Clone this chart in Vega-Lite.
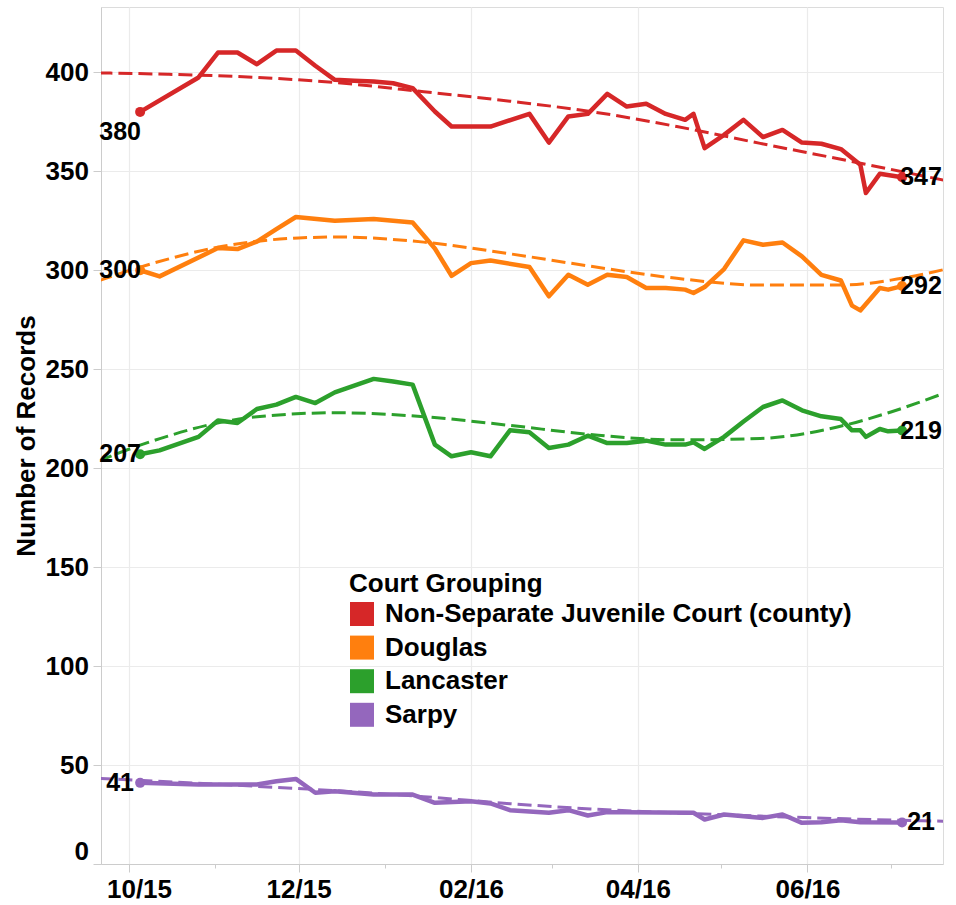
{
  "$schema": "https://vega.github.io/schema/vega-lite/v6.json",
  "width": 842,
  "height": 857,
  "autosize": "none",
  "padding": {"left": 101, "top": 7, "right": 13, "bottom": 41},
  "background": "white",
  "config": {
    "font": "Liberation Sans",
    "view": {"stroke": "#dcdcdc", "strokeWidth": 1},
    "axis": {
      "labelFont": "Liberation Sans", "labelFontSize": 26, "labelFontWeight": "bold", "labelColor": "#000000",
      "titleFont": "Liberation Sans", "titleFontSize": 26, "titleFontWeight": "bold", "titleColor": "#000000",
      "domainColor": "#cccccc", "tickColor": "#cccccc", "gridColor": "#ebebeb", "gridWidth": 1.2
    }
  },
  "data": {
    "format": {"parse": {"date": "date"}},
    "values": [
      {"date": "2015-10-05", "court": "Non-Separate Juvenile Court (county)", "records": 380},
      {"date": "2015-10-26", "court": "Non-Separate Juvenile Court (county)", "records": 397.4},
      {"date": "2015-11-02", "court": "Non-Separate Juvenile Court (county)", "records": 410},
      {"date": "2015-11-09", "court": "Non-Separate Juvenile Court (county)", "records": 410},
      {"date": "2015-11-16", "court": "Non-Separate Juvenile Court (county)", "records": 404.1},
      {"date": "2015-11-23", "court": "Non-Separate Juvenile Court (county)", "records": 411},
      {"date": "2015-11-30", "court": "Non-Separate Juvenile Court (county)", "records": 411},
      {"date": "2015-12-07", "court": "Non-Separate Juvenile Court (county)", "records": 403.3},
      {"date": "2015-12-14", "court": "Non-Separate Juvenile Court (county)", "records": 396.2},
      {"date": "2015-12-21", "court": "Non-Separate Juvenile Court (county)", "records": 395.8},
      {"date": "2015-12-28", "court": "Non-Separate Juvenile Court (county)", "records": 395.4},
      {"date": "2016-01-04", "court": "Non-Separate Juvenile Court (county)", "records": 394.5},
      {"date": "2016-01-11", "court": "Non-Separate Juvenile Court (county)", "records": 392},
      {"date": "2016-01-19", "court": "Non-Separate Juvenile Court (county)", "records": 380.2},
      {"date": "2016-01-25", "court": "Non-Separate Juvenile Court (county)", "records": 372.6},
      {"date": "2016-02-01", "court": "Non-Separate Juvenile Court (county)", "records": 372.6},
      {"date": "2016-02-08", "court": "Non-Separate Juvenile Court (county)", "records": 372.6},
      {"date": "2016-02-22", "court": "Non-Separate Juvenile Court (county)", "records": 379},
      {"date": "2016-02-29", "court": "Non-Separate Juvenile Court (county)", "records": 364.5},
      {"date": "2016-03-07", "court": "Non-Separate Juvenile Court (county)", "records": 377.7},
      {"date": "2016-03-14", "court": "Non-Separate Juvenile Court (county)", "records": 379},
      {"date": "2016-03-21", "court": "Non-Separate Juvenile Court (county)", "records": 389.1},
      {"date": "2016-03-28", "court": "Non-Separate Juvenile Court (county)", "records": 382.7},
      {"date": "2016-04-04", "court": "Non-Separate Juvenile Court (county)", "records": 384.1},
      {"date": "2016-04-11", "court": "Non-Separate Juvenile Court (county)", "records": 379},
      {"date": "2016-04-18", "court": "Non-Separate Juvenile Court (county)", "records": 376},
      {"date": "2016-04-21", "court": "Non-Separate Juvenile Court (county)", "records": 379},
      {"date": "2016-04-25", "court": "Non-Separate Juvenile Court (county)", "records": 361.7},
      {"date": "2016-05-02", "court": "Non-Separate Juvenile Court (county)", "records": 368.4},
      {"date": "2016-05-09", "court": "Non-Separate Juvenile Court (county)", "records": 376},
      {"date": "2016-05-16", "court": "Non-Separate Juvenile Court (county)", "records": 367.3},
      {"date": "2016-05-23", "court": "Non-Separate Juvenile Court (county)", "records": 370.9},
      {"date": "2016-05-30", "court": "Non-Separate Juvenile Court (county)", "records": 364.5},
      {"date": "2016-06-06", "court": "Non-Separate Juvenile Court (county)", "records": 363.9},
      {"date": "2016-06-13", "court": "Non-Separate Juvenile Court (county)", "records": 361.2},
      {"date": "2016-06-20", "court": "Non-Separate Juvenile Court (county)", "records": 353.3},
      {"date": "2016-06-22", "court": "Non-Separate Juvenile Court (county)", "records": 339},
      {"date": "2016-06-27", "court": "Non-Separate Juvenile Court (county)", "records": 348.7},
      {"date": "2016-07-05", "court": "Non-Separate Juvenile Court (county)", "records": 347},

      {"date": "2015-10-05", "court": "Douglas", "records": 300},
      {"date": "2015-10-12", "court": "Douglas", "records": 296.9},
      {"date": "2015-11-02", "court": "Douglas", "records": 311.2},
      {"date": "2015-11-09", "court": "Douglas", "records": 310.7},
      {"date": "2015-11-16", "court": "Douglas", "records": 314.5},
      {"date": "2015-11-23", "court": "Douglas", "records": 320.8},
      {"date": "2015-11-30", "court": "Douglas", "records": 326.9},
      {"date": "2015-12-14", "court": "Douglas", "records": 325},
      {"date": "2015-12-28", "court": "Douglas", "records": 325.9},
      {"date": "2016-01-11", "court": "Douglas", "records": 324.1},
      {"date": "2016-01-19", "court": "Douglas", "records": 311},
      {"date": "2016-01-25", "court": "Douglas", "records": 297.2},
      {"date": "2016-02-01", "court": "Douglas", "records": 303.6},
      {"date": "2016-02-08", "court": "Douglas", "records": 304.9},
      {"date": "2016-02-22", "court": "Douglas", "records": 301.6},
      {"date": "2016-02-29", "court": "Douglas", "records": 286.8},
      {"date": "2016-03-07", "court": "Douglas", "records": 297.7},
      {"date": "2016-03-14", "court": "Douglas", "records": 292.7},
      {"date": "2016-03-21", "court": "Douglas", "records": 297.7},
      {"date": "2016-03-28", "court": "Douglas", "records": 296.6},
      {"date": "2016-04-04", "court": "Douglas", "records": 291},
      {"date": "2016-04-11", "court": "Douglas", "records": 291},
      {"date": "2016-04-18", "court": "Douglas", "records": 290.2},
      {"date": "2016-04-21", "court": "Douglas", "records": 288.5},
      {"date": "2016-04-25", "court": "Douglas", "records": 291.5},
      {"date": "2016-05-02", "court": "Douglas", "records": 300.6},
      {"date": "2016-05-09", "court": "Douglas", "records": 315.1},
      {"date": "2016-05-16", "court": "Douglas", "records": 312.9},
      {"date": "2016-05-23", "court": "Douglas", "records": 314},
      {"date": "2016-05-30", "court": "Douglas", "records": 307},
      {"date": "2016-06-06", "court": "Douglas", "records": 297.7},
      {"date": "2016-06-13", "court": "Douglas", "records": 294.8},
      {"date": "2016-06-17", "court": "Douglas", "records": 282.1},
      {"date": "2016-06-20", "court": "Douglas", "records": 279.7},
      {"date": "2016-06-27", "court": "Douglas", "records": 291},
      {"date": "2016-06-30", "court": "Douglas", "records": 290.2},
      {"date": "2016-07-05", "court": "Douglas", "records": 292},

      {"date": "2015-10-05", "court": "Lancaster", "records": 207},
      {"date": "2015-10-12", "court": "Lancaster", "records": 209},
      {"date": "2015-10-26", "court": "Lancaster", "records": 215.8},
      {"date": "2015-11-02", "court": "Lancaster", "records": 224.1},
      {"date": "2015-11-09", "court": "Lancaster", "records": 222.8},
      {"date": "2015-11-16", "court": "Lancaster", "records": 229.9},
      {"date": "2015-11-23", "court": "Lancaster", "records": 232.1},
      {"date": "2015-11-30", "court": "Lancaster", "records": 236},
      {"date": "2015-12-07", "court": "Lancaster", "records": 232.9},
      {"date": "2015-12-14", "court": "Lancaster", "records": 238.3},
      {"date": "2015-12-21", "court": "Lancaster", "records": 241.7},
      {"date": "2015-12-28", "court": "Lancaster", "records": 245.1},
      {"date": "2016-01-04", "court": "Lancaster", "records": 243.8},
      {"date": "2016-01-11", "court": "Lancaster", "records": 242.2},
      {"date": "2016-01-19", "court": "Lancaster", "records": 211.9},
      {"date": "2016-01-25", "court": "Lancaster", "records": 206},
      {"date": "2016-02-01", "court": "Lancaster", "records": 208},
      {"date": "2016-02-08", "court": "Lancaster", "records": 206},
      {"date": "2016-02-15", "court": "Lancaster", "records": 219.1},
      {"date": "2016-02-22", "court": "Lancaster", "records": 218.1},
      {"date": "2016-02-29", "court": "Lancaster", "records": 210.2},
      {"date": "2016-03-07", "court": "Lancaster", "records": 211.9},
      {"date": "2016-03-14", "court": "Lancaster", "records": 216.4},
      {"date": "2016-03-21", "court": "Lancaster", "records": 212.7},
      {"date": "2016-03-28", "court": "Lancaster", "records": 212.7},
      {"date": "2016-04-04", "court": "Lancaster", "records": 213.9},
      {"date": "2016-04-11", "court": "Lancaster", "records": 211.9},
      {"date": "2016-04-18", "court": "Lancaster", "records": 211.9},
      {"date": "2016-04-21", "court": "Lancaster", "records": 213},
      {"date": "2016-04-25", "court": "Lancaster", "records": 209.7},
      {"date": "2016-05-02", "court": "Lancaster", "records": 215.8},
      {"date": "2016-05-09", "court": "Lancaster", "records": 223.6},
      {"date": "2016-05-16", "court": "Lancaster", "records": 230.9},
      {"date": "2016-05-23", "court": "Lancaster", "records": 234.2},
      {"date": "2016-05-30", "court": "Lancaster", "records": 229.2},
      {"date": "2016-06-06", "court": "Lancaster", "records": 226.2},
      {"date": "2016-06-13", "court": "Lancaster", "records": 224.8},
      {"date": "2016-06-17", "court": "Lancaster", "records": 219.1},
      {"date": "2016-06-20", "court": "Lancaster", "records": 219.1},
      {"date": "2016-06-22", "court": "Lancaster", "records": 215.8},
      {"date": "2016-06-27", "court": "Lancaster", "records": 219.8},
      {"date": "2016-06-30", "court": "Lancaster", "records": 218.6},
      {"date": "2016-07-05", "court": "Lancaster", "records": 219},

      {"date": "2015-10-05", "court": "Sarpy", "records": 41},
      {"date": "2015-10-26", "court": "Sarpy", "records": 40.2},
      {"date": "2015-11-16", "court": "Sarpy", "records": 40.2},
      {"date": "2015-11-23", "court": "Sarpy", "records": 41.8},
      {"date": "2015-11-30", "court": "Sarpy", "records": 43},
      {"date": "2015-12-07", "court": "Sarpy", "records": 36},
      {"date": "2015-12-14", "court": "Sarpy", "records": 36.8},
      {"date": "2015-12-28", "court": "Sarpy", "records": 35.1},
      {"date": "2016-01-11", "court": "Sarpy", "records": 35.1},
      {"date": "2016-01-19", "court": "Sarpy", "records": 30.9},
      {"date": "2016-02-01", "court": "Sarpy", "records": 31.7},
      {"date": "2016-02-08", "court": "Sarpy", "records": 30.6},
      {"date": "2016-02-15", "court": "Sarpy", "records": 27.2},
      {"date": "2016-02-22", "court": "Sarpy", "records": 26.5},
      {"date": "2016-02-29", "court": "Sarpy", "records": 25.9},
      {"date": "2016-03-07", "court": "Sarpy", "records": 27.2},
      {"date": "2016-03-14", "court": "Sarpy", "records": 24.5},
      {"date": "2016-03-21", "court": "Sarpy", "records": 26.2},
      {"date": "2016-03-28", "court": "Sarpy", "records": 26.2},
      {"date": "2016-04-21", "court": "Sarpy", "records": 25.9},
      {"date": "2016-04-25", "court": "Sarpy", "records": 22.5},
      {"date": "2016-05-02", "court": "Sarpy", "records": 25},
      {"date": "2016-05-16", "court": "Sarpy", "records": 23.3},
      {"date": "2016-05-23", "court": "Sarpy", "records": 25},
      {"date": "2016-05-30", "court": "Sarpy", "records": 20.8},
      {"date": "2016-06-06", "court": "Sarpy", "records": 21.1},
      {"date": "2016-06-13", "court": "Sarpy", "records": 22.1},
      {"date": "2016-06-20", "court": "Sarpy", "records": 21.1},
      {"date": "2016-07-05", "court": "Sarpy", "records": 21}
    ]
  },
  "encoding": {
    "x": {
      "field": "date", "type": "temporal",
      "scale": {"type": "utc", "domain": [1442787552000, 1468949400000]},
      "axis": {
        "title": null,
        "values": [1443657600000, 1446336000000, 1448928000000, 1451606400000, 1454284800000, 1456790400000, 1459468800000, 1462060800000, 1464739200000, 1467331200000],
        "labelExpr": "utcmonth(datum.value) % 2 == 1 ? utcFormat(datum.value, '%m/%y') : ''",
        "tickSize": {"condition": {"test": "utcmonth(datum.value) % 2 == 0", "value": 4}, "value": 8},
        "gridOpacity": {"condition": {"test": "utcmonth(datum.value) % 2 == 0", "value": 0}, "value": 1},
        "labelOffset": {"condition": {"test": "+datum.value == 1443657600000", "value": 10}, "value": 0},
        "labelPadding": 4,
        "labelFlush": false,
        "labelOverlap": false,
        "labelBound": false
      }
    },
    "y": {
      "field": "records", "type": "quantitative",
      "scale": {"domain": [0, 433], "nice": false, "zero": true},
      "axis": {
        "title": "Number of Records",
        "values": [0, 50, 100, 150, 200, 250, 300, 350, 400],
        "tickSize": 8,
        "labelPadding": 4.5,
        "labelFlush": true,
        "titlePadding": 6
      }
    },
    "color": {
      "field": "court", "type": "nominal",
      "scale": {
        "domain": ["Non-Separate Juvenile Court (county)", "Douglas", "Lancaster", "Sarpy"],
        "range": ["#d62728", "#ff7f0e", "#2ca02c", "#9467bd"]
      },
      "legend": {
        "orient": "none", "legendX": 248, "legendY": 564,
        "title": "Court Grouping",
        "titleFont": "Liberation Sans", "titleFontSize": 26, "titleFontWeight": "bold", "titleColor": "#000000", "titlePadding": 4, "titleLimit": 600,
        "labelFont": "Liberation Sans", "labelFontSize": 26, "labelFontWeight": "bold", "labelColor": "#000000", "labelOffset": 10, "labelLimit": 700,
        "symbolType": "square", "symbolSize": 576, "symbolStrokeWidth": 0, "symbolOpacity": 1,
        "rowPadding": 7.6, "padding": 0,
        "encode": {"symbols": {"update": {"fill": {"scale": "color", "field": "value"}, "opacity": {"value": 1}}}}
      }
    }
  },
  "layer": [
    {"mark": {"type": "line", "strokeWidth": 4.5, "strokeJoin": "round"}},
    {
      "data": {
        "values": [
          {"date": "2015-09-20", "court": "Non-Separate Juvenile Court (county)", "records": 399.7},
          {"date": "2015-10-15", "court": "Non-Separate Juvenile Court (county)", "records": 399.0},
          {"date": "2015-11-15", "court": "Non-Separate Juvenile Court (county)", "records": 397.5},
          {"date": "2015-12-15", "court": "Non-Separate Juvenile Court (county)", "records": 394.7},
          {"date": "2016-01-15", "court": "Non-Separate Juvenile Court (county)", "records": 390.2},
          {"date": "2016-02-15", "court": "Non-Separate Juvenile Court (county)", "records": 385.4},
          {"date": "2016-03-15", "court": "Non-Separate Juvenile Court (county)", "records": 380.2},
          {"date": "2016-04-15", "court": "Non-Separate Juvenile Court (county)", "records": 372.6},
          {"date": "2016-05-15", "court": "Non-Separate Juvenile Court (county)", "records": 364.1},
          {"date": "2016-06-15", "court": "Non-Separate Juvenile Court (county)", "records": 355.5},
          {"date": "2016-07-20", "court": "Non-Separate Juvenile Court (county)", "records": 345.5},

          {"date": "2015-09-20", "court": "Douglas", "records": 294.6},
          {"date": "2015-10-05", "court": "Douglas", "records": 301.6},
          {"date": "2015-10-15", "court": "Douglas", "records": 305.6},
          {"date": "2015-11-01", "court": "Douglas", "records": 311.4},
          {"date": "2015-11-15", "court": "Douglas", "records": 314.5},
          {"date": "2015-12-01", "court": "Douglas", "records": 316.3},
          {"date": "2015-12-15", "court": "Douglas", "records": 316.8},
          {"date": "2016-01-15", "court": "Douglas", "records": 314.2},
          {"date": "2016-02-15", "court": "Douglas", "records": 308.3},
          {"date": "2016-03-15", "court": "Douglas", "records": 302.0},
          {"date": "2016-04-15", "court": "Douglas", "records": 295.9},
          {"date": "2016-05-15", "court": "Douglas", "records": 292.5},
          {"date": "2016-06-15", "court": "Douglas", "records": 292.6},
          {"date": "2016-07-01", "court": "Douglas", "records": 295.0},
          {"date": "2016-07-20", "court": "Douglas", "records": 300.3},

          {"date": "2015-09-20", "court": "Lancaster", "records": 203.6},
          {"date": "2015-10-05", "court": "Lancaster", "records": 211.6},
          {"date": "2015-10-15", "court": "Lancaster", "records": 216.2},
          {"date": "2015-11-01", "court": "Lancaster", "records": 222.6},
          {"date": "2015-11-15", "court": "Lancaster", "records": 225.8},
          {"date": "2015-12-15", "court": "Lancaster", "records": 228.0},
          {"date": "2016-01-15", "court": "Lancaster", "records": 226.0},
          {"date": "2016-02-15", "court": "Lancaster", "records": 221.6},
          {"date": "2016-03-15", "court": "Lancaster", "records": 217.0},
          {"date": "2016-04-15", "court": "Lancaster", "records": 214.3},
          {"date": "2016-05-15", "court": "Lancaster", "records": 215.0},
          {"date": "2016-06-01", "court": "Lancaster", "records": 217.7},
          {"date": "2016-06-15", "court": "Lancaster", "records": 221.9},
          {"date": "2016-07-01", "court": "Lancaster", "records": 228.4},
          {"date": "2016-07-20", "court": "Lancaster", "records": 237.8},

          {"date": "2015-09-20", "court": "Sarpy", "records": 43.3},
          {"date": "2015-11-15", "court": "Sarpy", "records": 39.3},
          {"date": "2015-12-15", "court": "Sarpy", "records": 37.0},
          {"date": "2016-01-15", "court": "Sarpy", "records": 34.0},
          {"date": "2016-02-15", "court": "Sarpy", "records": 30.5},
          {"date": "2016-03-15", "court": "Sarpy", "records": 27.8},
          {"date": "2016-04-15", "court": "Sarpy", "records": 25.8},
          {"date": "2016-05-15", "court": "Sarpy", "records": 24.2},
          {"date": "2016-06-15", "court": "Sarpy", "records": 22.8},
          {"date": "2016-07-20", "court": "Sarpy", "records": 21.6}
        ]
      },
      "mark": {"type": "line", "strokeWidth": 3, "strokeDash": [14, 6], "interpolate": "monotone", "clip": true}
    },
    {
      "transform": [
        {"joinaggregate": [{"op": "min", "field": "date", "as": "first"}, {"op": "max", "field": "date", "as": "last"}], "groupby": ["court"]},
        {"filter": "+datum.date === +datum.first || +datum.date === +datum.last"}
      ],
      "mark": {"type": "circle", "size": 100, "opacity": 1}
    },
    {
      "transform": [
        {"joinaggregate": [{"op": "min", "field": "date", "as": "first"}], "groupby": ["court"]},
        {"filter": "+datum.date === +datum.first && datum.court !== 'Non-Separate Juvenile Court (county)'"}
      ],
      "mark": {"type": "text", "dx": -20, "align": "center", "baseline": "middle", "fontSize": 25, "fontWeight": "bold", "font": "Liberation Sans"},
      "encoding": {"text": {"field": "records", "type": "quantitative", "format": ".0f"}, "color": {"value": "#000000"}}
    },
    {
      "transform": [
        {"joinaggregate": [{"op": "min", "field": "date", "as": "first"}], "groupby": ["court"]},
        {"filter": "+datum.date === +datum.first && datum.court === 'Non-Separate Juvenile Court (county)'"}
      ],
      "mark": {"type": "text", "dx": -20, "dy": 20, "align": "center", "baseline": "middle", "fontSize": 25, "fontWeight": "bold", "font": "Liberation Sans"},
      "encoding": {"text": {"field": "records", "type": "quantitative", "format": ".0f"}, "color": {"value": "#000000"}}
    },
    {
      "transform": [
        {"joinaggregate": [{"op": "max", "field": "date", "as": "last"}], "groupby": ["court"]},
        {"filter": "+datum.date === +datum.last"}
      ],
      "mark": {"type": "text", "dx": 19, "align": "center", "baseline": "middle", "fontSize": 25, "fontWeight": "bold", "font": "Liberation Sans"},
      "encoding": {"text": {"field": "records", "type": "quantitative", "format": ".0f"}, "color": {"value": "#000000"}}
    }
  ]
}
